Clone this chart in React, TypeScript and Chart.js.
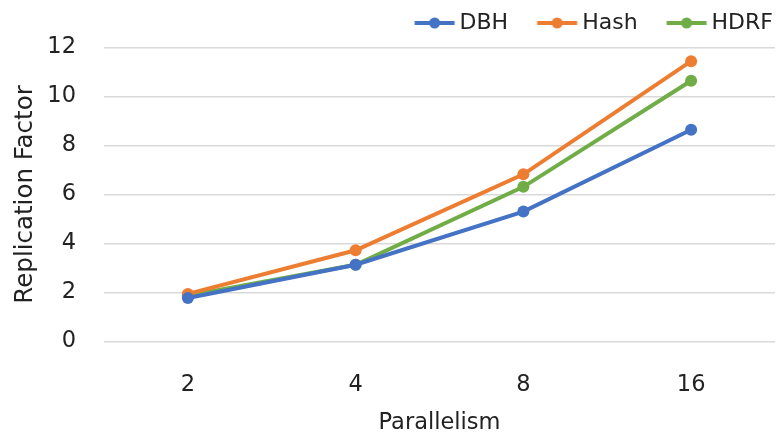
import React, { useEffect, useRef } from "react";
import { Chart, registerables } from "chart.js";

Chart.register(...registerables);

const categories = ["2", "4", "8", "16"];
const dbhValues = [1.77, 3.13, 5.3, 8.64];
const hashValues = [1.94, 3.72, 6.82, 11.44];
const hdrfValues = [1.87, 3.13, 6.31, 10.64];

const FONT = "'DejaVu Sans', Verdana, sans-serif";
const TEXT = "#222222";

// Legend marker: a short line with a dot, placed on the right part of a wider transparent canvas
function legendMarker(color: string): HTMLCanvasElement {
  const c = document.createElement("canvas");
  c.width = 80;
  c.height = 12;
  const ctx = c.getContext("2d")!;
  ctx.strokeStyle = color;
  ctx.lineWidth = 4;
  ctx.beginPath();
  ctx.moveTo(31.5, 6);
  ctx.lineTo(71.5, 6);
  ctx.stroke();
  ctx.fillStyle = color;
  ctx.beginPath();
  ctx.arc(51.5, 6, 5.5, 0, Math.PI * 2);
  ctx.fill();
  return c;
}

export default function App() {
  const ref = useRef<HTMLCanvasElement | null>(null);

  useEffect(() => {
    if (!ref.current) return;
    const series = [
      { label: "DBH", data: dbhValues, color: "#4472C4" },
      { label: "Hash", data: hashValues, color: "#ED7D31" },
      { label: "HDRF", data: hdrfValues, color: "#70AD47" },
    ];
    const chart = new Chart(ref.current, {
      type: "line",
      data: {
        labels: categories,
        datasets: series.map((s) => ({
          label: s.label,
          data: s.data,
          borderColor: s.color,
          backgroundColor: s.color,
          borderWidth: 4,
          pointRadius: 6,
          pointBorderWidth: 0,
          pointBackgroundColor: s.color,
          pointStyle: "circle",
          tension: 0,
        })),
      },
      options: {
        animation: false,
        responsive: false,
        layout: { padding: { top: 3.5, right: 6, left: 0, bottom: 0 } },
        plugins: {
          tooltip: { enabled: false },
          legend: {
            position: "top",
            align: "end",
            labels: {
              usePointStyle: true,
              pointStyleWidth: 51,
              padding: 12,
              color: TEXT,
              font: { family: FONT, size: 22 },
              generateLabels: () =>
                series.map((s, i) => ({
                  text: s.label,
                  fillStyle: s.color,
                  strokeStyle: s.color,
                  lineWidth: 0,
                  pointStyle: legendMarker(s.color),
                  hidden: false,
                  datasetIndex: i,
                  fontColor: TEXT,
                })),
            },
          },
        },
        scales: {
          x: {
            type: "category",
            offset: true,
            grid: { display: false, drawTicks: false },
            border: { display: false },
            ticks: {
              padding: 30,
              color: TEXT,
              font: { family: FONT, size: 22.5 },
            },
            title: {
              display: true,
              text: "Parallelism",
              color: TEXT,
              font: { family: FONT, size: 22.5 },
              padding: { top: 0, bottom: -3 },
            },
            afterFit: (scale: any) => {
              scale.height = 92.6;
            },
          },
          y: {
            min: 0,
            max: 12,
            grid: { color: "#d9d9d9", lineWidth: 1.5, drawTicks: false },
            border: { display: false },
            ticks: {
              stepSize: 2,
              padding: 28,
              color: TEXT,
              font: { family: FONT, size: 22.5 },
            },
            title: {
              display: true,
              text: "Replication Factor",
              color: TEXT,
              font: { family: FONT, size: 24.5 },
              padding: { top: 11, bottom: 0 },
            },
            afterFit: (scale: any) => {
              scale.width = 104;
            },
          },
        },
      },
    });

    // Nudge the legend drawing into the top-right corner
    const legend: any = (chart as any).legend;
    if (legend) {
      const baseDraw = legend.draw.bind(legend);
      legend.draw = function () {
        const ctx = chart.ctx;
        ctx.save();
        ctx.translate(10, -3.5);
        baseDraw();
        ctx.restore();
      };
      chart.update();
    }

    return () => chart.destroy();
  }, []);

  return (
    <div
      style={{
        position: "fixed",
        left: 0,
        top: 0,
        width: 781,
        height: 434,
        background: "#ffffff",
      }}
    >
      <canvas ref={ref} width={781} height={434} />
    </div>
  );
}
